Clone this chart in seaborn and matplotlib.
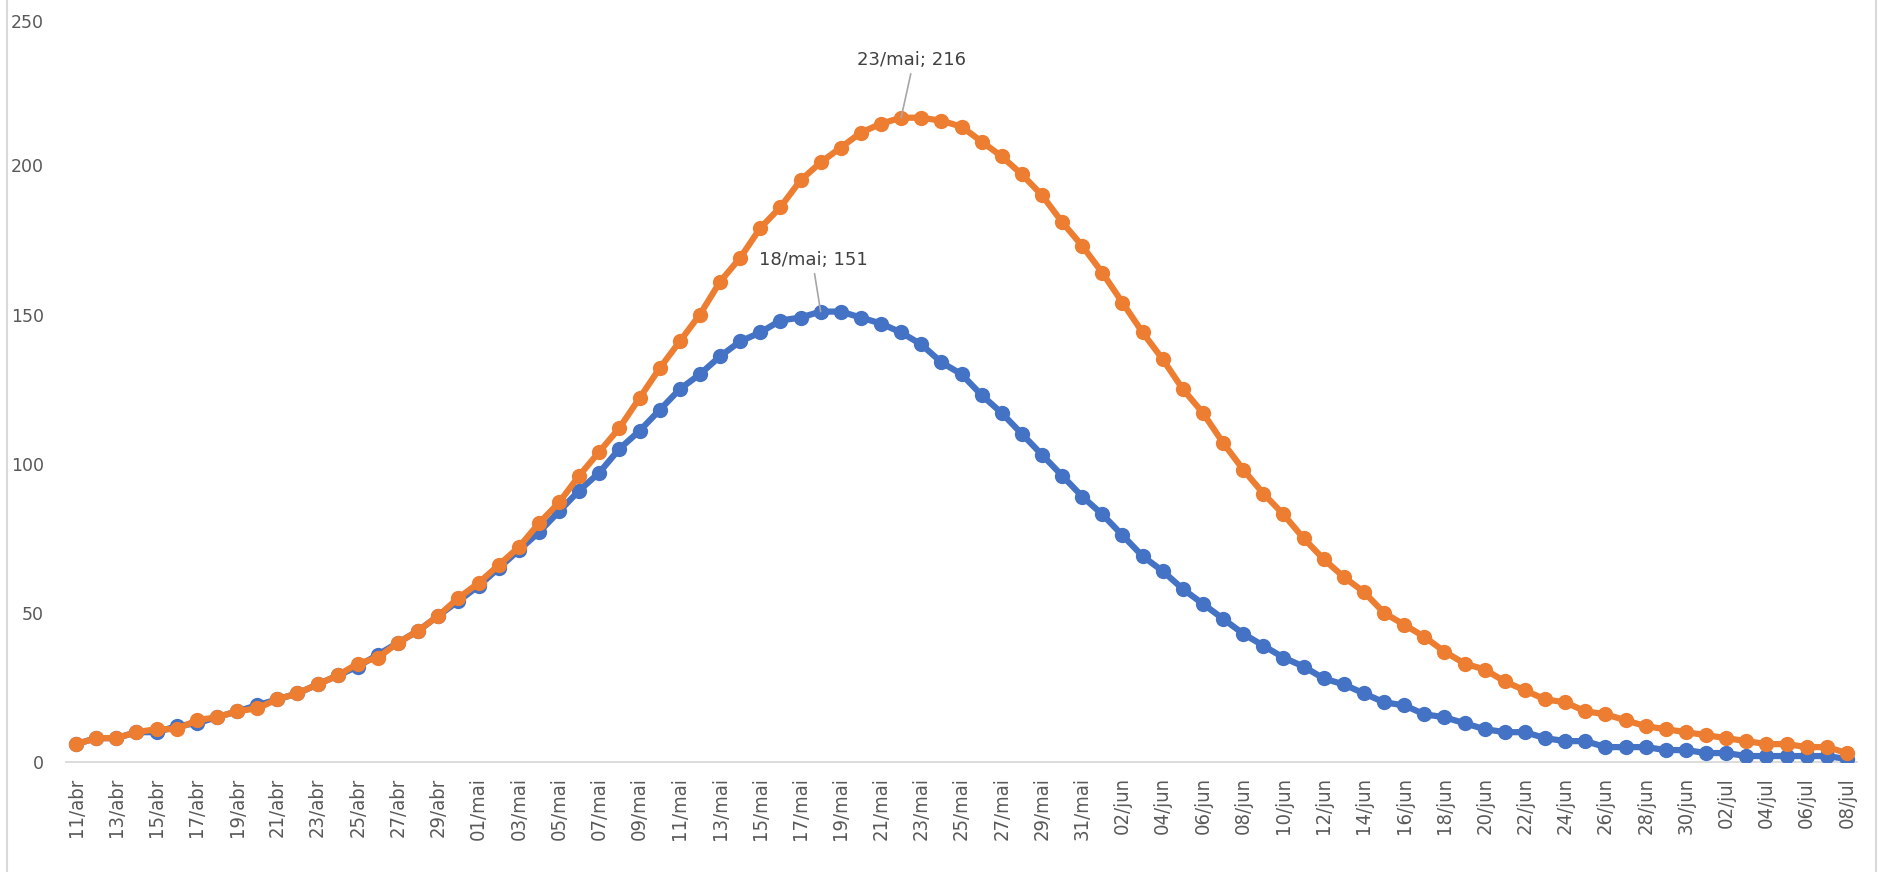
import matplotlib
matplotlib.use("Agg")
import matplotlib.pyplot as plt
import matplotlib.transforms as mtransforms
from matplotlib import font_manager
from matplotlib.lines import Line2D
import seaborn as sns
import pandas as pd
import numpy as np

# ---------------- data ----------------
start_date = "2020-04-11"
end_date = "2020-07-08"
month_abbr = {4: "abr", 5: "mai", 6: "jun", 7: "jul"}

serie_azul = [6, 8, 8, 10, 10, 12, 13, 15, 17, 19, 21, 23, 26, 29, 32, 36, 40, 44, 49, 54,
              59, 65, 71, 77, 84, 91, 97, 105, 111, 118, 125, 130, 136, 141, 144, 148, 149, 151,
              151, 149, 147, 144, 140, 134, 130, 123, 117, 110, 103, 96, 89,
              83, 76, 69, 64, 58, 53, 48, 43, 39, 35, 32, 28, 26, 23, 20, 19, 16, 15, 13, 11,
              10, 10, 8, 7, 7, 5, 5, 5, 4, 4,
              3, 3, 2, 2, 2, 2, 2, 1]

serie_laranja = [6, 8, 8, 10, 11, 11, 14, 15, 17, 18, 21, 23, 26, 29, 33, 35, 40, 44, 49, 55,
                 60, 66, 72, 80, 87, 96, 104, 112, 122, 132, 141, 150, 161, 169, 179, 186, 195, 201,
                 206, 211, 214, 216, 216, 215, 213, 208, 203, 197, 190, 181, 173,
                 164, 154, 144, 135, 125, 117, 107, 98, 90, 83, 75, 68, 62, 57, 50, 46, 42, 37, 33, 31,
                 27, 24, 21, 20, 17, 16, 14, 12, 11, 10,
                 9, 8, 7, 6, 6, 5, 5, 3]

y_ticks = [0, 50, 100, 150, 200, 250]

anotacoes = [("18/mai; 151", "serie_azul"), ("23/mai; 216", "serie_laranja")]

# ---------------- build table ----------------
dates = pd.date_range(start_date, end_date, freq="D")
categorias = [f"{d.day:02d}/{month_abbr[d.month]}" for d in dates]
n = len(categorias)
idx = np.arange(n)

df = pd.DataFrame({
    "idx": np.concatenate([idx, idx]),
    "valor": serie_azul + serie_laranja,
    "serie": ["serie_azul"] * n + ["serie_laranja"] * n,
})

# ---------------- style ----------------
sns.set_theme(style="white")
plt.rcParams["font.family"] = ["DejaVu Sans"]

avail = {f.name for f in font_manager.fontManager.ttflist}
tick_family = "Liberation Sans Narrow" if "Liberation Sans Narrow" in avail else "DejaVu Sans"
tick_stretch = "normal" if tick_family == "Liberation Sans Narrow" else "condensed"

W, H = 1885, 872
fig = plt.figure(figsize=(W / 100, H / 100), dpi=100)
ax_left, ax_right = 66 / W, 1857 / W
ax_bottom, ax_top = 1 - 762 / H, 1 - 16.3 / H
ax = fig.add_axes([ax_left, ax_bottom, ax_right - ax_left, ax_top - ax_bottom])

palette = {"serie_azul": "#4472C4", "serie_laranja": "#ED7D31"}
sns.lineplot(data=df, x="idx", y="valor", hue="serie", palette=palette,
             marker="o", markersize=11, markeredgewidth=0, linewidth=4.5,
             legend=False, ax=ax, sort=False)

ax.set_xlim(-0.5, n - 0.5)
ax.set_ylim(0, 250)
ax.set_xlabel("")
ax.set_ylabel("")

ax.set_xticks(idx[::2])
ax.set_xticklabels(categorias[::2], rotation=90, fontsize=14.5,
                   family=tick_family, fontstretch=tick_stretch, color="#595959")
ax.set_yticks(y_ticks)
ax.set_yticklabels([str(v) for v in y_ticks], fontsize=12.5, color="#595959")
ax.tick_params(axis="x", length=0, pad=11)
ax.tick_params(axis="y", length=0, pad=16)

# top label nudged down slightly (kept inside chart area, as in the reference)
top_lbl = ax.get_yticklabels()[-1]
top_lbl.set_transform(top_lbl.get_transform() +
                      mtransforms.ScaledTranslation(0, -5 / 100, fig.dpi_scale_trans))

for s in ["left", "right", "top"]:
    ax.spines[s].set_visible(False)
ax.spines["bottom"].set_color("#d9d9d9")
ax.spines["bottom"].set_linewidth(1.3)
ax.spines["bottom"].set_zorder(0.5)
ax.grid(False)

# annotations
series_map = {"serie_azul": serie_azul, "serie_laranja": serie_laranja}
text_pos = {"serie_azul": (36.66, 168.3), "serie_laranja": (41.53, 235.3)}
for label, key in anotacoes:
    vals = series_map[key]
    i = int(np.argmax(vals))
    ax.annotate(label, xy=(i, vals[i]), xytext=text_pos[key], textcoords="data",
                ha="center", va="center", fontsize=13, color="#404040",
                arrowprops=dict(arrowstyle="-", color="#a6a6a6", lw=1.2,
                                shrinkA=1, shrinkB=0, relpos=(0.5, 0.0)),
                zorder=5)

# chart area border lines (left and right)
fig.add_artist(Line2D([7 / W, 7 / W], [0, 1], color="#d9d9d9", lw=1.5, transform=fig.transFigure))
fig.add_artist(Line2D([1876 / W, 1876 / W], [0, 1], color="#d9d9d9", lw=1.5, transform=fig.transFigure))

fig.savefig("out.png", dpi=100)
